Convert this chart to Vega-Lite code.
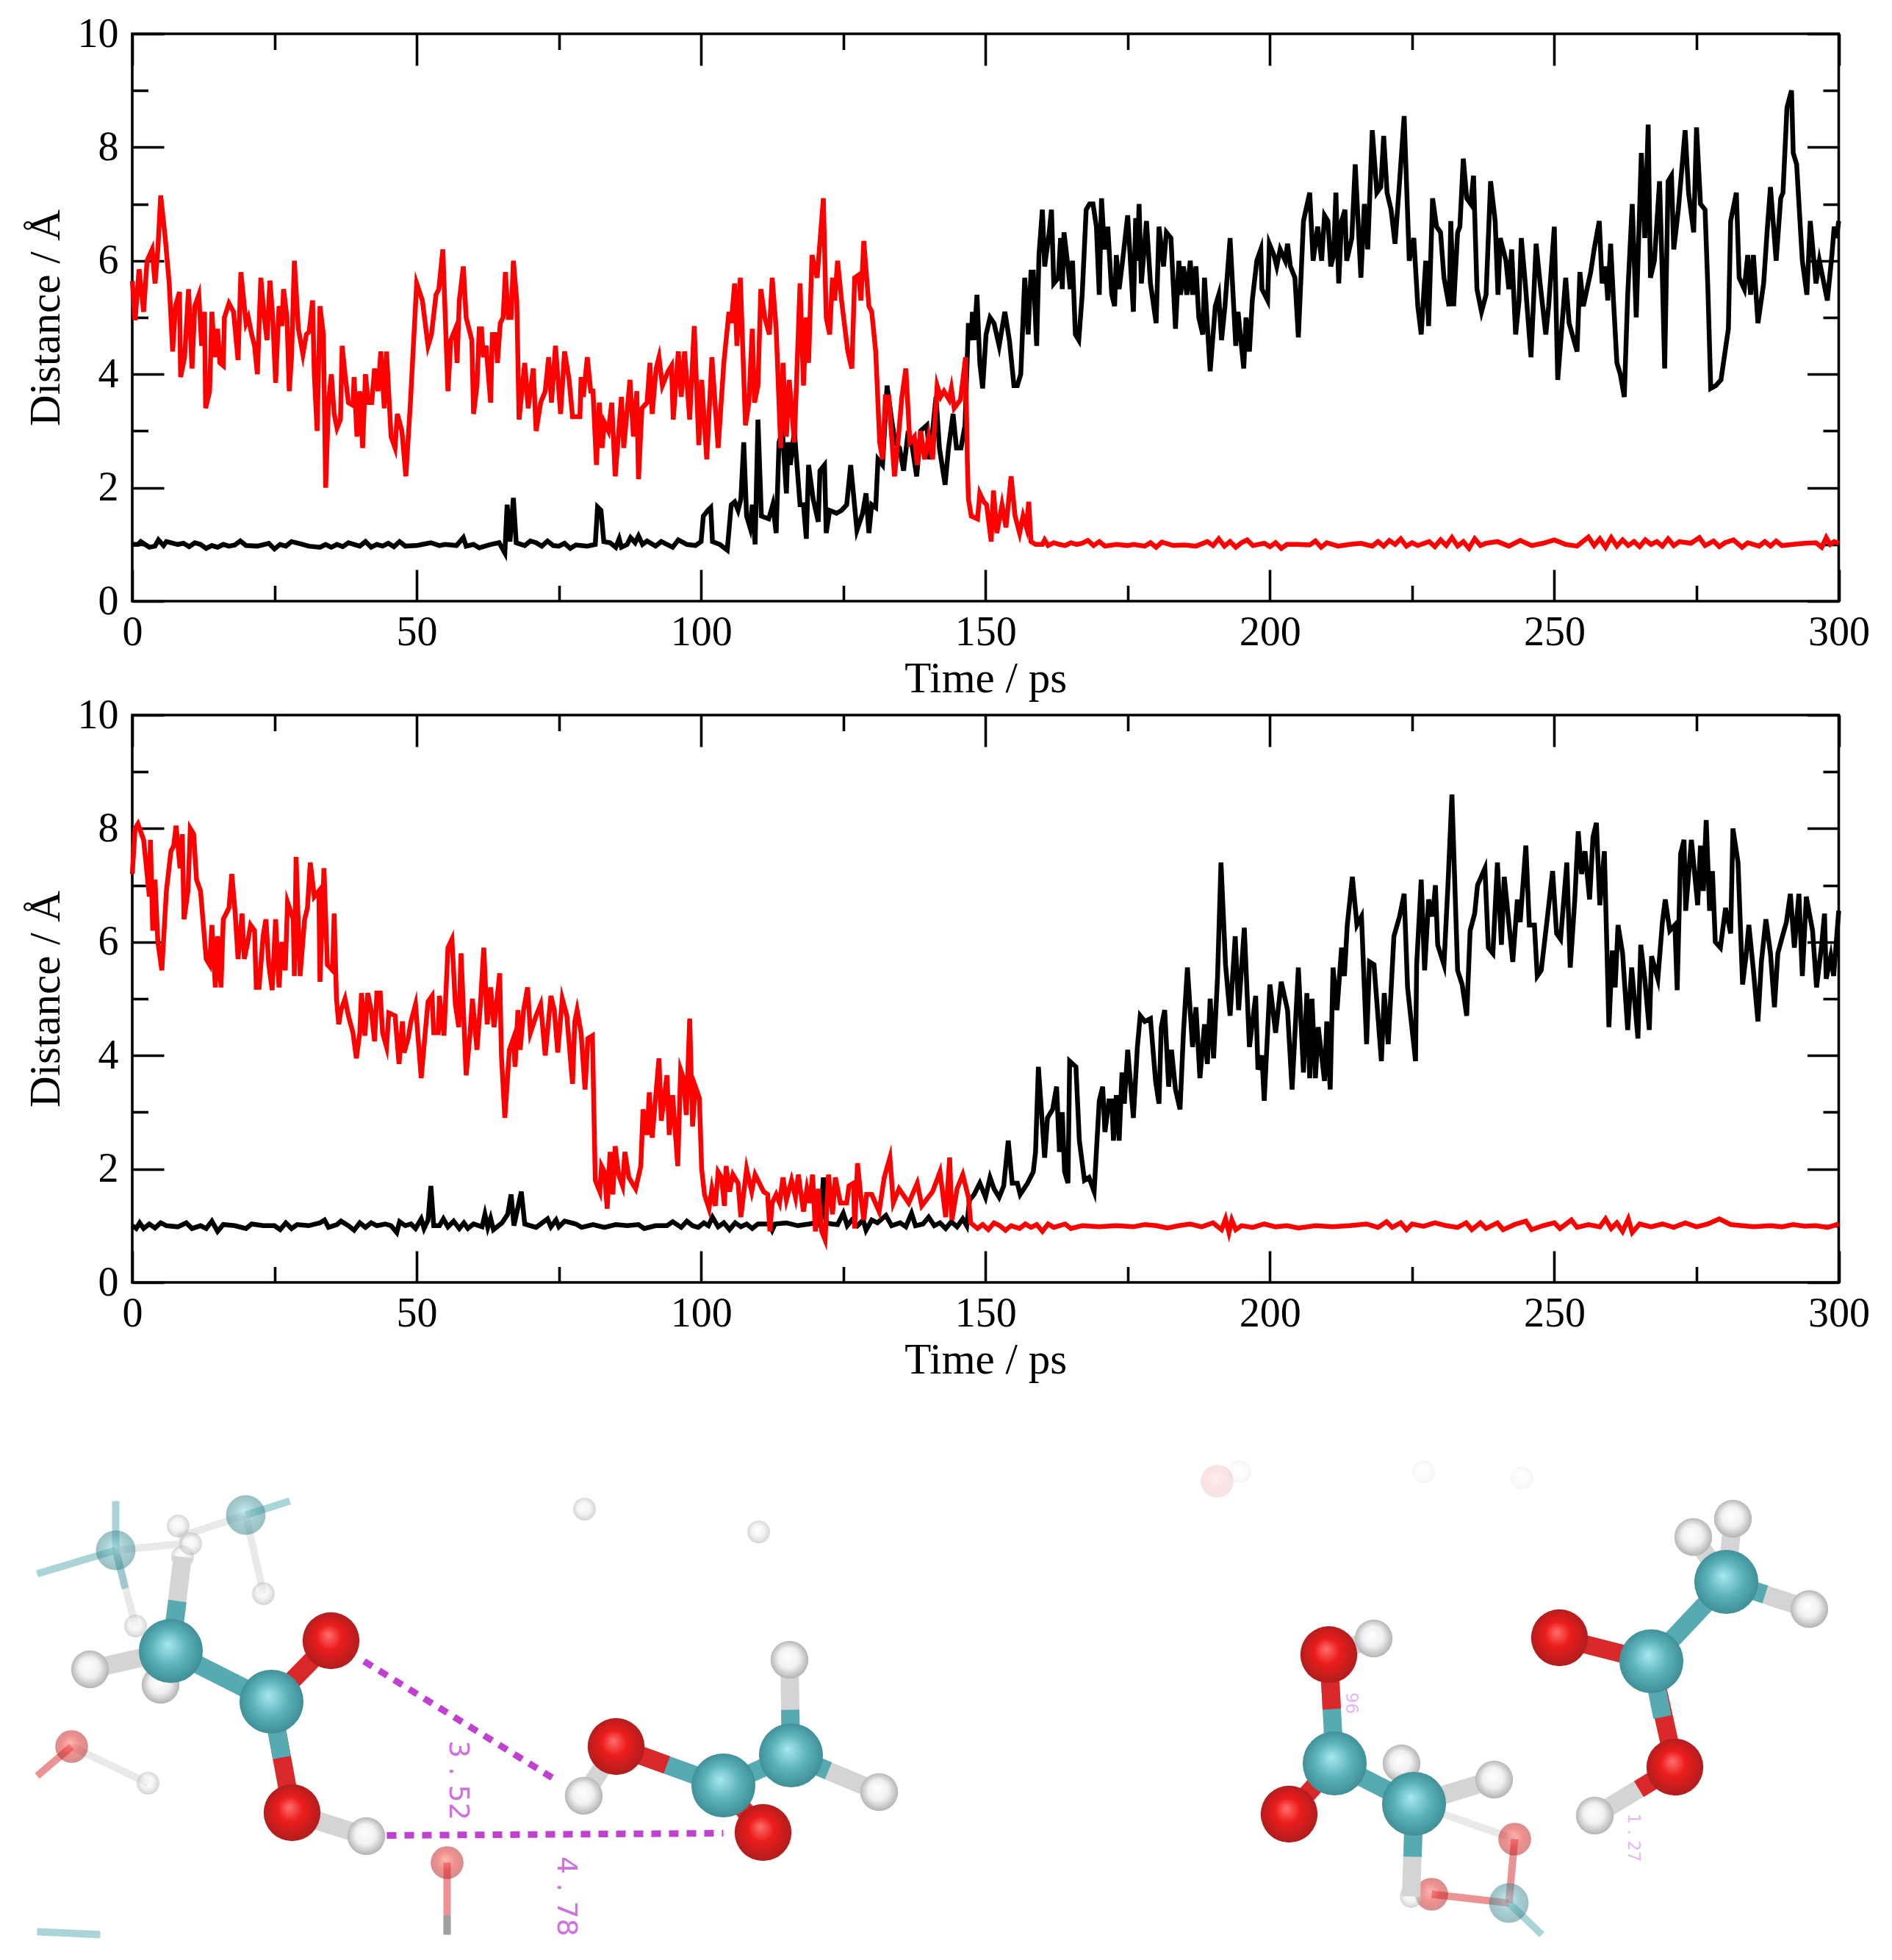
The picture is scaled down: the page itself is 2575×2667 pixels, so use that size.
{
"$schema":"https://vega.github.io/schema/vega-lite/v6.json",
"padding":{"left":31,"top":16,"right":0,"bottom":0},
"background":"white",
"spacing":155,
"bounds":"flush",
"config":{
"view":{"stroke":"black","strokeWidth":3.6},
"axis":{"grid":false,"domain":false,"labelFont":"Liberation Serif","titleFont":"Liberation Serif","labelFontSize":56,"titleFontSize":59,"titleFontWeight":"normal","labelColor":"black","titleColor":"black","tickColor":"black","tickWidth":3.6,"labelOverlap":false,"labelFlush":false,"format":"d"},
"line":{"strokeWidth":6.5,"strokeJoin":"miter","strokeMiterLimit":6}
},
"datasets":{
"black1":[{"t":0,"d":1.0},{"t":1,"d":1.0},{"t":1.5,"d":1.05},{"t":3,"d":0.95},{"t":4,"d":0.97},{"t":4.6,"d":1.08},{"t":5.5,"d":0.98},{"t":6,"d":1.05},{"t":8,"d":1.0},{"t":9,"d":1.02},{"t":10,"d":0.96},{"t":11,"d":1.03},{"t":12,"d":1.0},{"t":13,"d":0.93},{"t":14,"d":0.98},{"t":15,"d":0.95},{"t":16,"d":1.0},{"t":17,"d":0.97},{"t":18,"d":0.99},{"t":19,"d":1.06},{"t":20,"d":0.98},{"t":22,"d":0.97},{"t":24,"d":1.02},{"t":25,"d":0.92},{"t":26,"d":1.0},{"t":27,"d":0.97},{"t":28,"d":1.05},{"t":30,"d":1.0},{"t":31,"d":0.97},{"t":33,"d":0.95},{"t":34,"d":1.0},{"t":35,"d":0.95},{"t":36,"d":1.0},{"t":37,"d":0.96},{"t":38,"d":1.03},{"t":39,"d":1.0},{"t":40,"d":0.97},{"t":41,"d":1.05},{"t":42,"d":0.95},{"t":43,"d":1.0},{"t":44,"d":0.97},{"t":45,"d":1.02},{"t":46,"d":0.96},{"t":47,"d":1.05},{"t":48,"d":0.97},{"t":50,"d":0.98},{"t":51,"d":1.0},{"t":52.5,"d":1.03},{"t":54,"d":0.98},{"t":55,"d":1.0},{"t":57,"d":0.98},{"t":58.2,"d":1.12},{"t":58.7,"d":0.97},{"t":60,"d":1.0},{"t":61,"d":0.94},{"t":63,"d":1.0},{"t":64.5,"d":1.03},{"t":65.5,"d":0.85},{"t":65.9,"d":1.7},{"t":66.4,"d":1.05},{"t":67,"d":1.82},{"t":67.5,"d":1.03},{"t":69,"d":0.98},{"t":70,"d":1.06},{"t":71,"d":1.03},{"t":72,"d":0.97},{"t":73,"d":1.06},{"t":74,"d":0.98},{"t":75,"d":0.97},{"t":76,"d":1.02},{"t":77,"d":0.93},{"t":78,"d":0.99},{"t":80,"d":0.97},{"t":81.4,"d":1.0},{"t":81.8,"d":1.66},{"t":82.4,"d":1.6},{"t":82.9,"d":1.05},{"t":84,"d":1.03},{"t":85,"d":0.95},{"t":85.6,"d":1.1},{"t":86,"d":0.95},{"t":87,"d":1.0},{"t":87.6,"d":1.12},{"t":88.4,"d":1.03},{"t":89,"d":1.15},{"t":89.7,"d":1.0},{"t":90.5,"d":1.06},{"t":92,"d":0.97},{"t":93,"d":1.05},{"t":95,"d":0.95},{"t":96,"d":1.08},{"t":97.5,"d":1.0},{"t":99,"d":0.98},{"t":100,"d":1.05},{"t":100.4,"d":1.5},{"t":101.2,"d":1.6},{"t":101.7,"d":1.65},{"t":102,"d":1.05},{"t":103.3,"d":1.0},{"t":104.6,"d":0.9},{"t":105.3,"d":1.7},{"t":105.9,"d":1.75},{"t":106.5,"d":1.6},{"t":107,"d":1.8},{"t":107.5,"d":2.8},{"t":108,"d":1.5},{"t":108.6,"d":1.3},{"t":109,"d":1.7},{"t":109.5,"d":1.0},{"t":110,"d":3.2},{"t":110.6,"d":1.5},{"t":111.9,"d":1.45},{"t":112.6,"d":1.7},{"t":113.2,"d":1.2},{"t":113.7,"d":2.8},{"t":114.3,"d":3.0},{"t":115,"d":1.9},{"t":115.3,"d":2.8},{"t":115.7,"d":2.4},{"t":116.4,"d":3.0},{"t":117.4,"d":1.7},{"t":118,"d":1.7},{"t":118.5,"d":1.1},{"t":118.9,"d":2.4},{"t":119.7,"d":1.8},{"t":120.6,"d":1.4},{"t":120.9,"d":2.3},{"t":121.7,"d":2.4},{"t":122,"d":1.2},{"t":122.6,"d":1.6},{"t":123.8,"d":1.55},{"t":124.7,"d":1.6},{"t":125.6,"d":1.7},{"t":126.3,"d":2.4},{"t":127.4,"d":1.25},{"t":128.4,"d":1.55},{"t":129,"d":1.9},{"t":129.5,"d":1.2},{"t":130,"d":1.7},{"t":130.7,"d":1.65},{"t":131.1,"d":2.5},{"t":131.9,"d":2.4},{"t":132.7,"d":3.8},{"t":133.5,"d":3.2},{"t":134.1,"d":2.8},{"t":134.9,"d":2.7},{"t":135.6,"d":2.3},{"t":136.3,"d":2.9},{"t":137,"d":2.8},{"t":137.9,"d":2.2},{"t":138.6,"d":3.0},{"t":139.7,"d":3.1},{"t":140.2,"d":2.5},{"t":141.3,"d":3.6},{"t":141.9,"d":2.7},{"t":142.9,"d":2.05},{"t":143.5,"d":2.7},{"t":144.3,"d":3.3},{"t":144.9,"d":2.7},{"t":145.7,"d":2.7},{"t":146.4,"d":3.1},{"t":147,"d":4.9},{"t":147.5,"d":4.6},{"t":147.7,"d":5.1},{"t":148,"d":4.6},{"t":148.5,"d":5.4},{"t":149,"d":4.2},{"t":149.5,"d":3.75},{"t":150.1,"d":4.7},{"t":150.8,"d":5.0},{"t":151.5,"d":4.9},{"t":152.4,"d":4.5},{"t":153.4,"d":5.1},{"t":154.2,"d":4.6},{"t":155,"d":3.8},{"t":155.6,"d":3.8},{"t":156.2,"d":4.0},{"t":156.9,"d":5.7},{"t":157.5,"d":4.7},{"t":158,"d":5.8},{"t":158.4,"d":5.8},{"t":159,"d":4.5},{"t":159.4,"d":6.1},{"t":160,"d":6.9},{"t":160.4,"d":5.9},{"t":161.2,"d":6.5},{"t":161.6,"d":6.9},{"t":162,"d":5.6},{"t":162.8,"d":5.7},{"t":163.2,"d":6.4},{"t":163.5,"d":5.5},{"t":163.8,"d":6.5},{"t":164.5,"d":5.9},{"t":164.9,"d":5.5},{"t":165.3,"d":6.0},{"t":165.8,"d":4.7},{"t":166.4,"d":4.6},{"t":167,"d":5.4},{"t":167.7,"d":6.9},{"t":168.3,"d":7.0},{"t":168.9,"d":7.0},{"t":169.5,"d":6.6},{"t":170,"d":5.4},{"t":170.4,"d":7.1},{"t":170.9,"d":6.2},{"t":171.5,"d":6.6},{"t":172.2,"d":5.4},{"t":172.7,"d":5.2},{"t":173,"d":6.1},{"t":173.5,"d":5.5},{"t":174.1,"d":6.0},{"t":175,"d":6.8},{"t":176,"d":5.1},{"t":176.4,"d":6.75},{"t":176.7,"d":6.0},{"t":177,"d":7.0},{"t":177.4,"d":5.6},{"t":178.3,"d":6.7},{"t":179,"d":5.6},{"t":180,"d":4.9},{"t":180.5,"d":6.6},{"t":181.3,"d":5.9},{"t":181.8,"d":6.5},{"t":182.6,"d":6.4},{"t":183.4,"d":4.8},{"t":184,"d":6.0},{"t":184.3,"d":5.4},{"t":184.8,"d":5.9},{"t":185.4,"d":5.4},{"t":186,"d":6.0},{"t":186.4,"d":5.4},{"t":187,"d":5.9},{"t":187.5,"d":5.0},{"t":188.2,"d":4.7},{"t":188.5,"d":5.7},{"t":189.5,"d":4.05},{"t":190.4,"d":5.2},{"t":191,"d":5.4},{"t":191.5,"d":4.6},{"t":192.1,"d":5.2},{"t":193,"d":6.4},{"t":194,"d":4.5},{"t":194.4,"d":5.1},{"t":195.4,"d":4.1},{"t":195.8,"d":5.0},{"t":196.4,"d":4.4},{"t":196.9,"d":5.3},{"t":197.7,"d":6.0},{"t":198.4,"d":6.2},{"t":198.6,"d":5.5},{"t":199.6,"d":5.3},{"t":199.9,"d":6.3},{"t":200.7,"d":6.1},{"t":201.2,"d":5.9},{"t":201.8,"d":6.2},{"t":202.7,"d":6.0},{"t":203.1,"d":6.3},{"t":203.6,"d":5.9},{"t":204.4,"d":5.7},{"t":205,"d":4.65},{"t":205.9,"d":6.7},{"t":207,"d":7.2},{"t":207.6,"d":6.0},{"t":208.4,"d":6.6},{"t":209.1,"d":6.0},{"t":209.6,"d":6.8},{"t":210.2,"d":6.7},{"t":210.7,"d":5.9},{"t":211.2,"d":6.1},{"t":211.6,"d":7.2},{"t":212.1,"d":5.6},{"t":212.6,"d":6.7},{"t":213.2,"d":6.9},{"t":213.5,"d":6.0},{"t":214.4,"d":6.4},{"t":215,"d":7.7},{"t":216,"d":5.7},{"t":216.6,"d":7.0},{"t":217.2,"d":6.2},{"t":218,"d":8.3},{"t":218.8,"d":7.2},{"t":219.5,"d":7.3},{"t":220,"d":8.2},{"t":220.6,"d":7.2},{"t":221.3,"d":6.9},{"t":222,"d":6.3},{"t":222.8,"d":7.4},{"t":223.6,"d":8.55},{"t":224.5,"d":6.0},{"t":225.3,"d":6.4},{"t":226,"d":5.2},{"t":226.6,"d":4.7},{"t":227.4,"d":6.0},{"t":227.9,"d":4.85},{"t":228.6,"d":7.1},{"t":229.3,"d":6.6},{"t":230,"d":6.5},{"t":230.6,"d":5.7},{"t":231.5,"d":5.2},{"t":231.8,"d":6.7},{"t":232.3,"d":5.2},{"t":233,"d":6.5},{"t":233.4,"d":6.6},{"t":234,"d":7.8},{"t":234.6,"d":7.1},{"t":235.3,"d":7.0},{"t":235.8,"d":7.5},{"t":236.4,"d":5.5},{"t":237.2,"d":5.1},{"t":238,"d":5.4},{"t":238.8,"d":7.4},{"t":239.6,"d":6.7},{"t":240.1,"d":5.4},{"t":240.5,"d":6.4},{"t":241.5,"d":6.0},{"t":242,"d":5.5},{"t":242.5,"d":6.2},{"t":243.2,"d":4.7},{"t":243.8,"d":5.3},{"t":244.2,"d":6.4},{"t":244.9,"d":5.6},{"t":245.9,"d":4.3},{"t":246.8,"d":6.3},{"t":247.5,"d":5.6},{"t":248.5,"d":4.7},{"t":249,"d":5.2},{"t":250,"d":6.6},{"t":250.6,"d":3.9},{"t":252,"d":5.7},{"t":252.6,"d":4.9},{"t":254,"d":4.4},{"t":254.5,"d":5.8},{"t":255.1,"d":5.2},{"t":256.4,"d":5.8},{"t":257,"d":6.2},{"t":257.9,"d":6.7},{"t":258.4,"d":5.6},{"t":259,"d":5.9},{"t":259.4,"d":5.3},{"t":259.9,"d":6.3},{"t":260.4,"d":5.3},{"t":261,"d":4.2},{"t":261.6,"d":4.0},{"t":262.3,"d":3.6},{"t":262.9,"d":5.4},{"t":263.7,"d":7.0},{"t":264.4,"d":5.0},{"t":265.3,"d":7.9},{"t":265.9,"d":6.4},{"t":266.5,"d":8.4},{"t":266.9,"d":5.7},{"t":267.6,"d":6.0},{"t":268.5,"d":7.4},{"t":269,"d":5.7},{"t":269.4,"d":4.1},{"t":270,"d":7.4},{"t":270.6,"d":7.5},{"t":271,"d":6.2},{"t":271.8,"d":6.9},{"t":273,"d":8.3},{"t":273.6,"d":7.2},{"t":274.5,"d":6.5},{"t":275,"d":8.35},{"t":275.7,"d":7.0},{"t":276.5,"d":6.9},{"t":277,"d":5.5},{"t":277.5,"d":3.75},{"t":278.4,"d":3.8},{"t":279.3,"d":3.9},{"t":280.6,"d":4.8},{"t":281,"d":6.7},{"t":282,"d":7.2},{"t":282.5,"d":5.7},{"t":283.4,"d":5.5},{"t":284,"d":6.1},{"t":284.5,"d":5.4},{"t":285,"d":6.1},{"t":285.8,"d":4.9},{"t":286.8,"d":5.6},{"t":287.4,"d":6.5},{"t":288,"d":7.3},{"t":289,"d":6.0},{"t":289.8,"d":7.1},{"t":290.2,"d":7.2},{"t":290.9,"d":8.7},{"t":291.7,"d":9.0},{"t":292,"d":7.9},{"t":292.6,"d":7.7},{"t":293.6,"d":6.0},{"t":294.4,"d":5.4},{"t":295,"d":6.7},{"t":296,"d":5.6},{"t":296.6,"d":6.0},{"t":298,"d":5.3},{"t":298.8,"d":6.1},{"t":299.2,"d":6.6},{"t":299.6,"d":6.4},{"t":300,"d":6.7}],
"red1":[{"t":0,"d":5.64},{"t":0.5,"d":4.95},{"t":1.2,"d":5.85},{"t":2,"d":5.1},{"t":2.6,"d":6.0},{"t":3.5,"d":6.2},{"t":4,"d":5.6},{"t":4.5,"d":6.2},{"t":5,"d":7.15},{"t":5.8,"d":6.4},{"t":6.5,"d":5.6},{"t":7.1,"d":4.4},{"t":7.6,"d":5.2},{"t":8.3,"d":5.45},{"t":8.5,"d":3.95},{"t":9.2,"d":4.3},{"t":9.9,"d":5.5},{"t":10.5,"d":4.1},{"t":11,"d":5.2},{"t":11.7,"d":5.4},{"t":12.2,"d":4.5},{"t":12.7,"d":5.1},{"t":12.9,"d":3.4},{"t":13.6,"d":3.7},{"t":14,"d":5.1},{"t":14.5,"d":4.3},{"t":15,"d":4.8},{"t":15.4,"d":4.2},{"t":16,"d":4.15},{"t":16.2,"d":5.0},{"t":17,"d":5.25},{"t":17.8,"d":5.1},{"t":18.6,"d":4.25},{"t":19.1,"d":5.8},{"t":20,"d":4.9},{"t":20.4,"d":5.0},{"t":21,"d":4.7},{"t":21.5,"d":4.5},{"t":22,"d":4.0},{"t":22.6,"d":5.7},{"t":23.2,"d":5.0},{"t":23.7,"d":4.6},{"t":24.2,"d":5.65},{"t":24.7,"d":5.0},{"t":25.2,"d":3.85},{"t":25.8,"d":5.2},{"t":26.3,"d":4.85},{"t":26.6,"d":5.5},{"t":27.2,"d":5.0},{"t":27.6,"d":3.7},{"t":28,"d":4.3},{"t":28.5,"d":6.0},{"t":29.2,"d":4.8},{"t":30,"d":4.35},{"t":30.6,"d":4.7},{"t":31.1,"d":4.75},{"t":31.7,"d":5.3},{"t":32,"d":4.0},{"t":32.5,"d":3.0},{"t":33,"d":5.2},{"t":33.6,"d":4.7},{"t":34,"d":2.0},{"t":34.5,"d":3.5},{"t":35,"d":4.0},{"t":35.5,"d":3.3},{"t":36,"d":3.05},{"t":36.6,"d":3.2},{"t":36.9,"d":4.5},{"t":37.4,"d":4.0},{"t":38,"d":3.5},{"t":38.8,"d":3.45},{"t":39,"d":3.95},{"t":39.5,"d":2.9},{"t":40,"d":3.7},{"t":40.5,"d":2.7},{"t":41,"d":4.0},{"t":41.5,"d":3.5},{"t":42.1,"d":3.5},{"t":42.6,"d":4.1},{"t":43.2,"d":3.7},{"t":43.7,"d":4.4},{"t":44.3,"d":3.4},{"t":44.7,"d":4.4},{"t":45.5,"d":2.9},{"t":46.2,"d":2.7},{"t":46.6,"d":3.3},{"t":47.4,"d":3.0},{"t":48.1,"d":2.2},{"t":48.9,"d":3.5},{"t":50,"d":5.6},{"t":51,"d":5.3},{"t":52,"d":4.5},{"t":52.6,"d":4.7},{"t":53.4,"d":5.4},{"t":53.9,"d":5.5},{"t":54.6,"d":6.2},{"t":55.5,"d":3.7},{"t":56,"d":4.6},{"t":56.8,"d":4.8},{"t":57.1,"d":4.2},{"t":57.5,"d":5.3},{"t":58.2,"d":5.9},{"t":58.7,"d":5.0},{"t":59.7,"d":4.6},{"t":60,"d":3.3},{"t":60.6,"d":3.8},{"t":61,"d":4.8},{"t":61.4,"d":4.8},{"t":61.7,"d":4.3},{"t":62.2,"d":4.5},{"t":63,"d":3.5},{"t":63.3,"d":4.7},{"t":63.9,"d":4.7},{"t":64.2,"d":4.2},{"t":64.7,"d":4.9},{"t":65.2,"d":5.0},{"t":65.6,"d":5.8},{"t":66.1,"d":5.0},{"t":66.6,"d":5.0},{"t":67,"d":6.0},{"t":67.6,"d":5.3},{"t":68,"d":3.2},{"t":68.6,"d":3.8},{"t":69,"d":4.2},{"t":69.6,"d":3.4},{"t":70.5,"d":4.1},{"t":71,"d":3.0},{"t":71.8,"d":3.5},{"t":72.6,"d":3.7},{"t":73.2,"d":4.3},{"t":73.7,"d":3.5},{"t":74.4,"d":4.5},{"t":75.3,"d":3.3},{"t":76,"d":4.4},{"t":76.8,"d":3.9},{"t":77.4,"d":3.25},{"t":78.7,"d":3.25},{"t":78.9,"d":3.95},{"t":79.3,"d":3.6},{"t":80,"d":4.3},{"t":80.6,"d":3.7},{"t":81,"d":3.7},{"t":81.6,"d":2.4},{"t":82.1,"d":3.5},{"t":82.6,"d":2.7},{"t":83,"d":3.15},{"t":83.7,"d":3.0},{"t":84.3,"d":3.5},{"t":84.9,"d":2.2},{"t":86,"d":3.6},{"t":86.4,"d":2.7},{"t":87.5,"d":3.9},{"t":88.1,"d":2.9},{"t":88.7,"d":3.7},{"t":89,"d":2.15},{"t":89.6,"d":3.4},{"t":90.5,"d":3.5},{"t":91,"d":4.2},{"t":91.4,"d":3.3},{"t":92.1,"d":4.1},{"t":92.6,"d":4.3},{"t":93.2,"d":3.8},{"t":94.2,"d":4.05},{"t":94.8,"d":4.15},{"t":95.1,"d":3.2},{"t":96,"d":4.4},{"t":96.5,"d":3.6},{"t":97.1,"d":4.4},{"t":98,"d":3.2},{"t":98.8,"d":4.85},{"t":99.6,"d":2.75},{"t":100.1,"d":3.9},{"t":101,"d":2.5},{"t":101.9,"d":4.3},{"t":103,"d":2.7},{"t":104,"d":4.2},{"t":104.9,"d":5.1},{"t":105.3,"d":4.9},{"t":105.9,"d":5.6},{"t":106.3,"d":4.5},{"t":106.9,"d":5.7},{"t":107.8,"d":3.1},{"t":108.4,"d":3.5},{"t":109,"d":4.8},{"t":109.4,"d":3.5},{"t":110,"d":3.8},{"t":110.5,"d":5.5},{"t":111.2,"d":5.0},{"t":112,"d":4.7},{"t":112.5,"d":5.7},{"t":113.2,"d":4.8},{"t":114,"d":2.7},{"t":114.4,"d":4.2},{"t":115,"d":2.9},{"t":115.5,"d":3.9},{"t":116.4,"d":2.8},{"t":117.4,"d":5.6},{"t":118,"d":3.8},{"t":118.5,"d":5.0},{"t":118.9,"d":4.2},{"t":119.5,"d":6.1},{"t":120.4,"d":5.7},{"t":121.5,"d":7.1},{"t":122,"d":5.0},{"t":122.6,"d":4.7},{"t":123.1,"d":5.7},{"t":123.5,"d":5.3},{"t":124,"d":6.0},{"t":124.7,"d":5.3},{"t":125.3,"d":4.8},{"t":125.8,"d":4.4},{"t":126.5,"d":4.1},{"t":127,"d":5.7},{"t":127.7,"d":5.75},{"t":128.1,"d":5.3},{"t":128.6,"d":6.35},{"t":129.5,"d":5.2},{"t":130,"d":5.1},{"t":130.7,"d":4.4},{"t":131.4,"d":2.8},{"t":131.9,"d":2.5},{"t":132.4,"d":3.6},{"t":133,"d":3.6},{"t":134,"d":2.2},{"t":134.7,"d":2.9},{"t":135.3,"d":3.6},{"t":136,"d":4.1},{"t":136.7,"d":2.8},{"t":137.5,"d":2.9},{"t":138,"d":2.4},{"t":138.6,"d":3.0},{"t":139.3,"d":2.5},{"t":140,"d":2.9},{"t":140.7,"d":2.5},{"t":141.5,"d":3.8},{"t":142.1,"d":3.6},{"t":142.7,"d":3.7},{"t":143.6,"d":3.55},{"t":144,"d":3.75},{"t":144.5,"d":3.4},{"t":145.6,"d":3.55},{"t":146.5,"d":4.3},{"t":146.8,"d":2.5},{"t":147,"d":1.8},{"t":147.5,"d":1.5},{"t":148.6,"d":1.45},{"t":149,"d":1.9},{"t":149.7,"d":1.75},{"t":150.2,"d":1.7},{"t":151,"d":1.05},{"t":151.4,"d":1.95},{"t":152,"d":1.2},{"t":152.9,"d":1.7},{"t":153.6,"d":1.3},{"t":154.5,"d":2.2},{"t":155.2,"d":1.5},{"t":156,"d":1.2},{"t":156.6,"d":1.5},{"t":157.2,"d":1.3},{"t":157.6,"d":1.75},{"t":158,"d":1.05},{"t":158.8,"d":1.0},{"t":160,"d":1.0},{"t":160.4,"d":1.08},{"t":161,"d":0.98},{"t":162,"d":1.03},{"t":163,"d":1.0},{"t":164,"d":0.98},{"t":165,"d":1.03},{"t":166,"d":1.0},{"t":167,"d":1.02},{"t":168,"d":1.07},{"t":169,"d":0.98},{"t":170,"d":1.05},{"t":171,"d":0.97},{"t":173,"d":1.0},{"t":175,"d":0.98},{"t":176,"d":1.0},{"t":178,"d":0.97},{"t":179,"d":1.03},{"t":180,"d":0.95},{"t":181,"d":1.04},{"t":183,"d":0.98},{"t":185,"d":0.99},{"t":187,"d":0.97},{"t":189,"d":1.05},{"t":190,"d":0.98},{"t":191,"d":1.1},{"t":192,"d":0.97},{"t":193,"d":1.05},{"t":194,"d":0.95},{"t":195,"d":1.03},{"t":196,"d":1.08},{"t":197,"d":0.98},{"t":199,"d":1.02},{"t":200,"d":0.96},{"t":201,"d":1.03},{"t":202,"d":0.93},{"t":203,"d":1.0},{"t":205,"d":1.0},{"t":207,"d":0.99},{"t":208,"d":1.06},{"t":209,"d":0.95},{"t":210,"d":1.03},{"t":212,"d":0.97},{"t":214,"d":1.0},{"t":216,"d":1.02},{"t":218,"d":0.97},{"t":219,"d":1.05},{"t":220,"d":0.97},{"t":221,"d":1.07},{"t":222,"d":1.0},{"t":223,"d":1.1},{"t":224,"d":0.97},{"t":225,"d":1.03},{"t":226,"d":0.98},{"t":228,"d":1.05},{"t":229,"d":0.96},{"t":230,"d":1.08},{"t":231,"d":0.98},{"t":232,"d":1.12},{"t":233,"d":0.97},{"t":234,"d":1.05},{"t":235,"d":0.93},{"t":236,"d":1.1},{"t":237,"d":0.98},{"t":238,"d":1.02},{"t":240,"d":1.05},{"t":242,"d":0.97},{"t":244,"d":1.07},{"t":246,"d":0.98},{"t":248,"d":1.02},{"t":250,"d":1.08},{"t":252,"d":1.0},{"t":254,"d":0.97},{"t":256,"d":1.13},{"t":257,"d":0.98},{"t":258,"d":1.1},{"t":259,"d":0.95},{"t":260,"d":1.12},{"t":261,"d":0.97},{"t":262,"d":1.08},{"t":263,"d":0.98},{"t":264,"d":1.05},{"t":265,"d":0.96},{"t":266,"d":1.08},{"t":267,"d":1.0},{"t":268,"d":1.05},{"t":269,"d":0.97},{"t":270,"d":1.1},{"t":271,"d":0.98},{"t":272,"d":1.05},{"t":274,"d":1.02},{"t":275.5,"d":1.12},{"t":276.5,"d":0.98},{"t":278,"d":1.06},{"t":279,"d":0.96},{"t":280,"d":1.03},{"t":281.5,"d":1.08},{"t":283,"d":0.95},{"t":284,"d":1.03},{"t":286,"d":0.97},{"t":287,"d":1.05},{"t":288,"d":0.97},{"t":289,"d":1.06},{"t":290,"d":0.98},{"t":292,"d":1.0},{"t":294,"d":1.02},{"t":296,"d":1.03},{"t":297,"d":0.95},{"t":297.8,"d":1.12},{"t":298.5,"d":1.0},{"t":299.2,"d":1.05},{"t":300,"d":1.02}],
"black2":[{"t":0,"d":1.0},{"t":0.7,"d":0.95},{"t":1.3,"d":1.05},{"t":2,"d":0.95},{"t":3,"d":1.03},{"t":4,"d":0.96},{"t":5,"d":1.05},{"t":6,"d":1.0},{"t":8,"d":0.98},{"t":9.5,"d":1.05},{"t":10.5,"d":0.95},{"t":12,"d":1.0},{"t":13,"d":0.95},{"t":14,"d":1.08},{"t":15,"d":0.9},{"t":16,"d":1.02},{"t":18,"d":1.0},{"t":20,"d":0.95},{"t":21,"d":1.03},{"t":23,"d":1.0},{"t":25,"d":1.0},{"t":26,"d":0.93},{"t":27,"d":1.05},{"t":28,"d":0.95},{"t":29,"d":1.02},{"t":31,"d":1.0},{"t":33,"d":1.05},{"t":33.8,"d":1.1},{"t":34.5,"d":0.97},{"t":36,"d":1.02},{"t":36.7,"d":1.08},{"t":38,"d":1.0},{"t":39,"d":0.92},{"t":40,"d":1.05},{"t":41,"d":0.97},{"t":42,"d":1.05},{"t":43,"d":1.0},{"t":44.5,"d":1.03},{"t":45.5,"d":1.0},{"t":46.5,"d":0.88},{"t":47,"d":1.07},{"t":48,"d":1.0},{"t":49,"d":1.03},{"t":49.8,"d":0.95},{"t":50.8,"d":1.12},{"t":51.3,"d":0.95},{"t":52,"d":1.1},{"t":52.5,"d":1.7},{"t":53,"d":1.0},{"t":54,"d":1.0},{"t":54.7,"d":1.12},{"t":55.5,"d":0.98},{"t":56.5,"d":1.08},{"t":57.5,"d":0.95},{"t":58.3,"d":1.05},{"t":59,"d":0.95},{"t":60,"d":1.03},{"t":61.5,"d":0.98},{"t":62,"d":1.2},{"t":62.5,"d":0.97},{"t":63,"d":1.13},{"t":63.5,"d":0.93},{"t":65,"d":1.05},{"t":66,"d":1.2},{"t":66.6,"d":1.55},{"t":67.1,"d":1.0},{"t":68.4,"d":1.6},{"t":69,"d":1.03},{"t":70,"d":1.0},{"t":71,"d":0.97},{"t":73,"d":1.12},{"t":73.6,"d":0.98},{"t":74.5,"d":1.1},{"t":75,"d":0.98},{"t":76,"d":1.08},{"t":78,"d":1.03},{"t":79,"d":0.97},{"t":81,"d":1.02},{"t":83,"d":0.97},{"t":85,"d":1.02},{"t":87,"d":1.0},{"t":89,"d":1.02},{"t":90,"d":0.95},{"t":92,"d":1.0},{"t":94,"d":1.0},{"t":95,"d":1.07},{"t":96.5,"d":0.97},{"t":97.5,"d":1.08},{"t":98.5,"d":1.0},{"t":99.5,"d":0.97},{"t":100.5,"d":1.05},{"t":101.3,"d":1.0},{"t":102,"d":1.15},{"t":103,"d":0.98},{"t":104,"d":1.05},{"t":105,"d":0.93},{"t":106,"d":1.05},{"t":107,"d":0.98},{"t":108,"d":1.03},{"t":109,"d":0.95},{"t":110,"d":1.03},{"t":112,"d":1.03},{"t":112.5,"d":0.92},{"t":113,"d":1.03},{"t":115,"d":1.05},{"t":117,"d":1.0},{"t":119,"d":1.03},{"t":120,"d":1.05},{"t":121,"d":1.0},{"t":121.5,"d":1.85},{"t":122,"d":1.05},{"t":123,"d":1.03},{"t":124,"d":1.02},{"t":125,"d":1.22},{"t":125.7,"d":1.0},{"t":126.5,"d":1.1},{"t":127.5,"d":1.0},{"t":128.5,"d":1.1},{"t":129,"d":0.92},{"t":130,"d":1.1},{"t":131,"d":1.05},{"t":132.5,"d":1.18},{"t":133.5,"d":1.0},{"t":135,"d":1.05},{"t":136,"d":0.98},{"t":137,"d":1.22},{"t":137.7,"d":1.0},{"t":139,"d":1.03},{"t":140,"d":1.15},{"t":141,"d":1.0},{"t":142,"d":1.05},{"t":143,"d":0.95},{"t":144,"d":1.07},{"t":145,"d":0.98},{"t":146,"d":1.12},{"t":146.7,"d":1.0},{"t":147.2,"d":1.45},{"t":148,"d":1.55},{"t":149,"d":1.75},{"t":150,"d":1.5},{"t":150.8,"d":1.85},{"t":151.5,"d":1.65},{"t":152.4,"d":1.5},{"t":153.2,"d":1.7},{"t":154,"d":2.5},{"t":154.7,"d":1.75},{"t":155.6,"d":1.75},{"t":156.1,"d":1.55},{"t":157.4,"d":1.75},{"t":158.4,"d":1.95},{"t":158.8,"d":2.3},{"t":159.3,"d":3.8},{"t":160.4,"d":2.2},{"t":160.9,"d":2.9},{"t":161.8,"d":3.05},{"t":162.5,"d":3.45},{"t":163,"d":2.3},{"t":163.5,"d":3.0},{"t":163.9,"d":1.95},{"t":164.5,"d":1.75},{"t":164.8,"d":3.9},{"t":165.9,"d":3.8},{"t":166.5,"d":2.5},{"t":167.4,"d":1.8},{"t":168.2,"d":1.85},{"t":169.1,"d":1.6},{"t":170,"d":3.2},{"t":170.6,"d":3.45},{"t":171,"d":2.65},{"t":171.7,"d":3.2},{"t":172.2,"d":3.2},{"t":172.5,"d":2.5},{"t":173,"d":3.3},{"t":173.5,"d":2.5},{"t":174,"d":3.7},{"t":174.4,"d":3.15},{"t":175,"d":4.1},{"t":176,"d":2.9},{"t":176.7,"d":4.15},{"t":177.2,"d":4.7},{"t":178,"d":4.6},{"t":179,"d":4.65},{"t":179.9,"d":3.55},{"t":180.5,"d":3.15},{"t":180.9,"d":4.5},{"t":181.5,"d":4.8},{"t":182.2,"d":3.45},{"t":182.7,"d":4.1},{"t":183.4,"d":3.4},{"t":184.2,"d":3.05},{"t":184.8,"d":4.4},{"t":185.5,"d":5.55},{"t":186.4,"d":4.15},{"t":187,"d":4.85},{"t":187.7,"d":3.6},{"t":188.5,"d":4.55},{"t":189,"d":3.85},{"t":189.5,"d":5.0},{"t":190.1,"d":3.95},{"t":190.8,"d":5.4},{"t":191.4,"d":7.4},{"t":192.2,"d":5.6},{"t":193,"d":4.7},{"t":193.9,"d":6.1},{"t":194.5,"d":4.8},{"t":195.5,"d":6.25},{"t":196.4,"d":4.15},{"t":197.5,"d":5.05},{"t":197.9,"d":3.75},{"t":198.6,"d":4.0},{"t":199,"d":3.2},{"t":200,"d":5.25},{"t":201,"d":4.4},{"t":202,"d":5.3},{"t":203.1,"d":4.8},{"t":203.9,"d":3.4},{"t":205,"d":5.55},{"t":205.9,"d":3.7},{"t":206.5,"d":5.1},{"t":207,"d":3.6},{"t":207.4,"d":5.0},{"t":208,"d":3.6},{"t":208.5,"d":4.5},{"t":209.6,"d":3.55},{"t":210,"d":4.6},{"t":210.6,"d":3.4},{"t":211.1,"d":5.55},{"t":211.8,"d":4.8},{"t":212.6,"d":5.9},{"t":213.1,"d":5.4},{"t":213.6,"d":6.3},{"t":214.5,"d":7.15},{"t":215.3,"d":6.3},{"t":216.1,"d":6.45},{"t":217,"d":4.2},{"t":217.5,"d":5.65},{"t":218.3,"d":5.6},{"t":219.6,"d":3.9},{"t":220.1,"d":5.1},{"t":220.8,"d":4.2},{"t":221.8,"d":6.1},{"t":222.8,"d":6.45},{"t":223.6,"d":6.85},{"t":224.2,"d":5.2},{"t":225.6,"d":3.9},{"t":225.8,"d":5.6},{"t":226.6,"d":7.1},{"t":227.2,"d":5.5},{"t":227.9,"d":6.75},{"t":228.6,"d":6.45},{"t":229.1,"d":7.0},{"t":229.5,"d":5.95},{"t":230.6,"d":5.6},{"t":231.3,"d":7.0},{"t":232,"d":8.6},{"t":233,"d":5.5},{"t":233.8,"d":5.25},{"t":234.6,"d":4.7},{"t":235.2,"d":6.2},{"t":236,"d":6.5},{"t":236.5,"d":7.0},{"t":237.8,"d":7.3},{"t":238.4,"d":5.9},{"t":239.2,"d":5.8},{"t":240,"d":7.4},{"t":240.7,"d":5.95},{"t":241.2,"d":7.15},{"t":242.7,"d":5.65},{"t":243.5,"d":6.75},{"t":244,"d":6.35},{"t":245,"d":7.7},{"t":245.6,"d":6.3},{"t":246.5,"d":6.3},{"t":247,"d":5.4},{"t":247.7,"d":5.5},{"t":248.8,"d":6.45},{"t":249.7,"d":7.25},{"t":250.4,"d":6.15},{"t":251.1,"d":6.05},{"t":252.2,"d":7.4},{"t":252.8,"d":5.55},{"t":253.6,"d":6.75},{"t":254.2,"d":7.95},{"t":254.8,"d":7.2},{"t":255.4,"d":7.6},{"t":256.2,"d":6.75},{"t":256.8,"d":7.85},{"t":257.4,"d":8.1},{"t":258,"d":6.65},{"t":258.8,"d":7.6},{"t":259.6,"d":4.5},{"t":260.2,"d":5.85},{"t":260.7,"d":5.2},{"t":261.2,"d":6.3},{"t":262,"d":5.8},{"t":262.9,"d":4.45},{"t":263.6,"d":5.55},{"t":264.7,"d":4.3},{"t":265.2,"d":5.95},{"t":265.9,"d":5.35},{"t":266.7,"d":4.45},{"t":267.1,"d":5.75},{"t":268.2,"d":5.35},{"t":269,"d":6.35},{"t":269.5,"d":6.75},{"t":270.3,"d":6.2},{"t":271.2,"d":6.3},{"t":271.6,"d":5.15},{"t":272.2,"d":7.55},{"t":272.8,"d":7.8},{"t":273.1,"d":6.55},{"t":274.1,"d":7.8},{"t":275.2,"d":6.65},{"t":275.7,"d":7.7},{"t":276.2,"d":6.9},{"t":276.7,"d":8.15},{"t":277.3,"d":6.55},{"t":277.8,"d":7.25},{"t":278.3,"d":6.0},{"t":279.2,"d":5.9},{"t":280.1,"d":6.6},{"t":281,"d":6.15},{"t":281.4,"d":8.0},{"t":282.3,"d":7.4},{"t":283.1,"d":5.25},{"t":283.7,"d":5.75},{"t":284.2,"d":6.3},{"t":285,"d":5.5},{"t":285.8,"d":4.6},{"t":286.4,"d":5.65},{"t":287.2,"d":6.4},{"t":288,"d":5.8},{"t":288.7,"d":4.85},{"t":289.3,"d":5.8},{"t":290.1,"d":6.1},{"t":290.8,"d":6.35},{"t":291.5,"d":6.85},{"t":292.2,"d":5.9},{"t":293,"d":6.85},{"t":293.6,"d":5.4},{"t":294.3,"d":6.8},{"t":295.4,"d":6.2},{"t":296.1,"d":5.2},{"t":297,"d":5.95},{"t":297.5,"d":6.5},{"t":297.8,"d":5.35},{"t":298.6,"d":5.75},{"t":299.1,"d":5.4},{"t":300,"d":6.55}],
"red2":[{"t":0,"d":7.2},{"t":0.5,"d":8.0},{"t":1,"d":8.08},{"t":2,"d":7.8},{"t":3,"d":6.8},{"t":3.2,"d":7.8},{"t":3.6,"d":6.2},{"t":4,"d":7.1},{"t":4.5,"d":6.0},{"t":5.2,"d":5.5},{"t":6,"d":6.9},{"t":6.8,"d":7.6},{"t":7.3,"d":7.7},{"t":7.7,"d":8.05},{"t":8.4,"d":7.3},{"t":8.8,"d":7.9},{"t":9.1,"d":6.4},{"t":9.8,"d":6.9},{"t":10.2,"d":8.0},{"t":10.8,"d":7.9},{"t":11.3,"d":7.1},{"t":12,"d":6.9},{"t":12.5,"d":6.3},{"t":13,"d":5.7},{"t":13.6,"d":5.6},{"t":14,"d":6.3},{"t":14.6,"d":5.2},{"t":15,"d":6.1},{"t":15.6,"d":5.2},{"t":16,"d":6.4},{"t":17,"d":6.6},{"t":17.5,"d":7.2},{"t":18.1,"d":6.5},{"t":18.6,"d":5.7},{"t":19.3,"d":6.5},{"t":19.7,"d":5.7},{"t":20.3,"d":6.0},{"t":20.8,"d":6.3},{"t":21.5,"d":6.2},{"t":21.8,"d":5.2},{"t":22.3,"d":5.2},{"t":23,"d":6.1},{"t":23.5,"d":6.4},{"t":24,"d":5.6},{"t":24.6,"d":5.15},{"t":25.2,"d":6.4},{"t":25.8,"d":5.2},{"t":26.3,"d":6.0},{"t":26.9,"d":5.5},{"t":27.3,"d":6.7},{"t":28.3,"d":6.4},{"t":28.5,"d":5.4},{"t":28.8,"d":7.5},{"t":29.5,"d":5.4},{"t":30.3,"d":6.4},{"t":30.8,"d":6.6},{"t":31.3,"d":7.4},{"t":32,"d":6.8},{"t":32.8,"d":6.9},{"t":33,"d":5.3},{"t":33.7,"d":7.3},{"t":34.3,"d":5.6},{"t":35.2,"d":5.5},{"t":35.5,"d":6.5},{"t":35.9,"d":5.0},{"t":36.3,"d":4.55},{"t":36.7,"d":4.8},{"t":37.4,"d":5.0},{"t":38,"d":4.7},{"t":38.8,"d":4.4},{"t":39.4,"d":3.95},{"t":40,"d":4.4},{"t":40.3,"d":5.1},{"t":40.9,"d":4.35},{"t":41.4,"d":5.1},{"t":42,"d":4.8},{"t":42.6,"d":4.25},{"t":43,"d":5.1},{"t":43.6,"d":5.1},{"t":44,"d":4.4},{"t":44.7,"d":4.15},{"t":45.1,"d":4.75},{"t":46.2,"d":4.7},{"t":46.9,"d":3.85},{"t":47.5,"d":4.6},{"t":47.8,"d":4.05},{"t":48.5,"d":4.3},{"t":49,"d":4.6},{"t":49.8,"d":4.9},{"t":50.8,"d":3.6},{"t":51.5,"d":4.4},{"t":52,"d":4.95},{"t":52.7,"d":5.05},{"t":53,"d":4.4},{"t":53.8,"d":4.4},{"t":54,"d":5.05},{"t":54.8,"d":4.35},{"t":55.5,"d":5.9},{"t":56.2,"d":6.05},{"t":56.8,"d":4.9},{"t":57.4,"d":4.5},{"t":57.8,"d":5.8},{"t":58.7,"d":3.65},{"t":59.4,"d":4.4},{"t":59.8,"d":5.0},{"t":60.6,"d":4.1},{"t":61.2,"d":4.9},{"t":61.8,"d":5.9},{"t":62.4,"d":4.55},{"t":63,"d":5.2},{"t":63.6,"d":4.5},{"t":64.6,"d":5.45},{"t":64.9,"d":4.0},{"t":65.5,"d":2.9},{"t":66.3,"d":4.1},{"t":67,"d":4.3},{"t":67.3,"d":3.8},{"t":67.8,"d":4.8},{"t":68.2,"d":4.1},{"t":68.8,"d":4.8},{"t":69.5,"d":5.2},{"t":70,"d":4.4},{"t":71,"d":4.7},{"t":71.8,"d":4.9},{"t":72.6,"d":4.0},{"t":73.6,"d":5.05},{"t":74.2,"d":4.8},{"t":74.8,"d":4.05},{"t":75.6,"d":5.0},{"t":76.4,"d":4.7},{"t":77.4,"d":3.5},{"t":77.8,"d":4.6},{"t":78.2,"d":4.8},{"t":78.9,"d":4.4},{"t":79.6,"d":3.4},{"t":80.1,"d":4.3},{"t":80.9,"d":4.35},{"t":81.4,"d":1.8},{"t":82.2,"d":1.6},{"t":82.5,"d":2.05},{"t":83,"d":1.95},{"t":83.5,"d":1.3},{"t":84,"d":2.3},{"t":84.5,"d":1.55},{"t":84.9,"d":2.4},{"t":85.5,"d":1.9},{"t":86.2,"d":1.7},{"t":86.6,"d":2.3},{"t":87.3,"d":1.85},{"t":88.5,"d":1.65},{"t":89.4,"d":2.05},{"t":89.8,"d":3.05},{"t":90.5,"d":2.6},{"t":90.9,"d":3.35},{"t":91.4,"d":2.55},{"t":92.6,"d":3.95},{"t":93,"d":2.85},{"t":94,"d":3.65},{"t":94.4,"d":2.6},{"t":95,"d":3.3},{"t":95.9,"d":2.05},{"t":96.4,"d":3.75},{"t":96.9,"d":3.6},{"t":97.4,"d":2.95},{"t":98,"d":4.65},{"t":98.5,"d":2.75},{"t":99,"d":3.45},{"t":99.7,"d":3.25},{"t":100.1,"d":2.0},{"t":100.6,"d":1.55},{"t":101.4,"d":1.3},{"t":101.9,"d":1.65},{"t":102.5,"d":1.35},{"t":103,"d":1.95},{"t":103.6,"d":1.85},{"t":104.1,"d":1.35},{"t":104.4,"d":2.05},{"t":105,"d":1.6},{"t":105.6,"d":1.9},{"t":106.5,"d":1.75},{"t":107,"d":1.15},{"t":108,"d":2.0},{"t":108.9,"d":1.6},{"t":109.5,"d":1.9},{"t":111,"d":1.6},{"t":111.7,"d":1.55},{"t":112.1,"d":0.9},{"t":112.5,"d":1.4},{"t":113.2,"d":1.55},{"t":113.8,"d":1.4},{"t":114.4,"d":1.85},{"t":115,"d":1.45},{"t":115.9,"d":1.8},{"t":116.6,"d":1.5},{"t":117.1,"d":1.9},{"t":118,"d":1.25},{"t":118.6,"d":1.65},{"t":119.1,"d":1.4},{"t":119.6,"d":1.9},{"t":120.1,"d":0.9},{"t":120.6,"d":1.65},{"t":121.2,"d":0.9},{"t":121.8,"d":0.75},{"t":122.4,"d":1.9},{"t":123.1,"d":1.2},{"t":123.6,"d":1.85},{"t":124.5,"d":1.4},{"t":125.6,"d":1.4},{"t":126,"d":1.7},{"t":126.8,"d":1.75},{"t":127,"d":0.95},{"t":127.5,"d":2.1},{"t":128.1,"d":1.5},{"t":128.6,"d":1.1},{"t":129.1,"d":1.55},{"t":130,"d":1.55},{"t":131.3,"d":1.25},{"t":132.2,"d":1.85},{"t":133.2,"d":2.2},{"t":133.8,"d":1.4},{"t":134.8,"d":1.65},{"t":136.5,"d":1.4},{"t":138,"d":1.75},{"t":138.8,"d":1.35},{"t":140.7,"d":1.6},{"t":142,"d":1.95},{"t":143,"d":1.15},{"t":143.7,"d":2.2},{"t":144.1,"d":1.1},{"t":145,"d":1.65},{"t":146,"d":1.9},{"t":147,"d":1.5},{"t":147.4,"d":1.05},{"t":148.6,"d":0.95},{"t":149.5,"d":1.02},{"t":150.5,"d":0.93},{"t":151.5,"d":1.05},{"t":152.5,"d":1.0},{"t":153.5,"d":0.92},{"t":154.5,"d":1.0},{"t":156,"d":0.95},{"t":157,"d":1.03},{"t":158,"d":0.97},{"t":159,"d":1.02},{"t":160,"d":0.9},{"t":161,"d":1.03},{"t":162,"d":0.97},{"t":164,"d":1.03},{"t":165,"d":0.95},{"t":167,"d":1.0},{"t":170,"d":0.98},{"t":173,"d":1.0},{"t":176,"d":0.98},{"t":178,"d":1.02},{"t":180,"d":1.0},{"t":182,"d":0.96},{"t":184,"d":1.0},{"t":186,"d":1.03},{"t":188,"d":0.98},{"t":190,"d":1.05},{"t":191.5,"d":0.93},{"t":192.2,"d":1.12},{"t":192.8,"d":0.88},{"t":193.3,"d":1.1},{"t":194,"d":0.93},{"t":195,"d":1.0},{"t":197,"d":0.97},{"t":199,"d":1.03},{"t":201,"d":0.98},{"t":203,"d":1.0},{"t":205,"d":0.96},{"t":208,"d":1.0},{"t":211,"d":0.98},{"t":214,"d":1.0},{"t":217,"d":1.03},{"t":219,"d":0.97},{"t":220.5,"d":1.07},{"t":221.5,"d":0.97},{"t":223,"d":1.05},{"t":224,"d":0.93},{"t":225,"d":1.03},{"t":227,"d":0.99},{"t":229,"d":1.05},{"t":231,"d":1.0},{"t":233,"d":0.97},{"t":234.5,"d":1.05},{"t":235.5,"d":0.93},{"t":237,"d":1.05},{"t":238,"d":0.95},{"t":240,"d":1.05},{"t":241,"d":0.93},{"t":243,"d":1.02},{"t":245,"d":1.08},{"t":246,"d":0.93},{"t":248,"d":1.0},{"t":250,"d":1.05},{"t":251,"d":0.95},{"t":253,"d":1.1},{"t":254,"d":0.97},{"t":256,"d":1.02},{"t":258,"d":0.98},{"t":259,"d":1.12},{"t":260,"d":0.95},{"t":261,"d":1.05},{"t":262,"d":0.9},{"t":263,"d":1.12},{"t":263.7,"d":0.88},{"t":265,"d":1.03},{"t":267,"d":0.98},{"t":269,"d":1.03},{"t":271,"d":0.97},{"t":273,"d":1.05},{"t":275,"d":0.98},{"t":277,"d":1.03},{"t":279,"d":1.12},{"t":281,"d":1.02},{"t":283,"d":1.0},{"t":285,"d":0.98},{"t":288,"d":1.0},{"t":290,"d":0.98},{"t":292,"d":1.02},{"t":294,"d":0.99},{"t":296,"d":1.0},{"t":298,"d":0.97},{"t":299,"d":1.0},{"t":300,"d":1.03}],
"bonds":[
{"x":230,"y":2240,"x2":120,"y2":2265,"el":"H","depth":"front"},
{"x":230,"y":2240,"x2":200,"y2":2246,"el":"C","depth":"front"},
{"x":230,"y":2240,"x2":246,"y2":2112,"el":"H","depth":"front"},
{"x":230,"y":2240,"x2":239,"y2":2172,"el":"C","depth":"front"},
{"x":230,"y":2240,"x2":367,"y2":2309,"el":"C","depth":"front"},
{"x":367,"y":2309,"x2":448,"y2":2226,"el":"O","depth":"front"},
{"x":367,"y":2309,"x2":395,"y2":2460,"el":"O","depth":"front"},
{"x":367,"y":2309,"x2":381,"y2":2385,"el":"C","depth":"front"},
{"x":395,"y":2460,"x2":496,"y2":2492,"el":"H","depth":"front"},
{"x":395,"y":2460,"x2":430,"y2":2471,"el":"O","depth":"front"},
{"x":836,"y":2370,"x2":792,"y2":2437,"el":"H","depth":"front"},
{"x":836,"y":2370,"x2":982,"y2":2423,"el":"C","depth":"front"},
{"x":836,"y":2370,"x2":905,"y2":2395,"el":"O","depth":"front"},
{"x":982,"y":2423,"x2":1074,"y2":2382,"el":"C","depth":"front"},
{"x":982,"y":2423,"x2":1036,"y2":2487,"el":"O","depth":"front"},
{"x":1074,"y":2382,"x2":1072,"y2":2252,"el":"H","depth":"front"},
{"x":1074,"y":2382,"x2":1073,"y2":2320,"el":"C","depth":"front"},
{"x":1074,"y":2382,"x2":1194,"y2":2432,"el":"H","depth":"front"},
{"x":1074,"y":2382,"x2":1125,"y2":2403,"el":"C","depth":"front"},
{"x":1806,"y":2245,"x2":1867,"y2":2223,"el":"H","depth":"front"},
{"x":1806,"y":2245,"x2":1814,"y2":2393,"el":"C","depth":"front"},
{"x":1806,"y":2245,"x2":1810,"y2":2319,"el":"O","depth":"front"},
{"x":1814,"y":2393,"x2":1752,"y2":2462,"el":"O","depth":"front"},
{"x":1814,"y":2393,"x2":1922,"y2":2448,"el":"C","depth":"front"},
{"x":1922,"y":2448,"x2":2031,"y2":2415,"el":"H","depth":"front"},
{"x":1922,"y":2448,"x2":1918,"y2":2574,"el":"H","depth":"front"},
{"x":1922,"y":2448,"x2":1920,"y2":2520,"el":"C","depth":"front"},
{"x":1922,"y":2448,"x2":2059,"y2":2496,"el":"H","depth":"back"},
{"x":2245,"y":2254,"x2":2120,"y2":2222,"el":"O","depth":"front"},
{"x":2245,"y":2254,"x2":2347,"y2":2146,"el":"C","depth":"front"},
{"x":2347,"y":2146,"x2":2302,"y2":2085,"el":"H","depth":"front"},
{"x":2347,"y":2146,"x2":2325,"y2":2115,"el":"C","depth":"front"},
{"x":2347,"y":2146,"x2":2356,"y2":2060,"el":"H","depth":"front"},
{"x":2347,"y":2146,"x2":2460,"y2":2183,"el":"H","depth":"front"},
{"x":2347,"y":2146,"x2":2400,"y2":2163,"el":"C","depth":"front"},
{"x":2245,"y":2254,"x2":2277,"y2":2398,"el":"O","depth":"front"},
{"x":2245,"y":2254,"x2":2260,"y2":2330,"el":"C","depth":"front"},
{"x":2277,"y":2398,"x2":2168,"y2":2464,"el":"H","depth":"front"},
{"x":2277,"y":2398,"x2":2228,"y2":2428,"el":"O","depth":"front"},
{"x":155,"y":2103,"x2":155,"y2":2036,"el":"C","depth":"back"},
{"x":155,"y":2103,"x2":48,"y2":2135,"el":"C","depth":"back"},
{"x":155,"y":2103,"x2":182,"y2":2206,"el":"H","depth":"back"},
{"x":155,"y":2103,"x2":168,"y2":2155,"el":"C","depth":"back"},
{"x":155,"y":2103,"x2":246,"y2":2094,"el":"H","depth":"back"},
{"x":332,"y":2055,"x2":240,"y2":2085,"el":"H","depth":"back"},
{"x":332,"y":2055,"x2":392,"y2":2036,"el":"C","depth":"back"},
{"x":332,"y":2055,"x2":356,"y2":2162,"el":"H","depth":"back"},
{"x":95,"y":2370,"x2":199,"y2":2420,"el":"H","depth":"back"},
{"x":95,"y":2370,"x2":48,"y2":2410,"el":"O","depth":"back"},
{"x":606,"y":2528,"x2":606,"y2":2626,"el":"O","depth":"back"},
{"x":606,"y":2600,"x2":606,"y2":2626,"el":"C","depth":"back"},
{"x":48,"y":2622,"x2":134,"y2":2626,"el":"C","depth":"back"},
{"x":2059,"y":2496,"x2":2051,"y2":2583,"el":"O","depth":"back"},
{"x":2051,"y":2583,"x2":1946,"y2":2571,"el":"O","depth":"back"},
{"x":2051,"y":2583,"x2":2096,"y2":2626,"el":"C","depth":"back"}
],
"dashes":[
{"x":493,"y":2254,"x2":758,"y2":2418},
{"x":524,"y":2491,"x2":982,"y2":2488}
],
"atoms":[
{"x":120,"y":2265,"el":"H","depth":"front"},
{"x":216,"y":2286,"el":"H","depth":"front"},
{"x":182,"y":2206,"el":"H","depth":"back"},
{"x":496,"y":2492,"el":"H","depth":"front"},
{"x":792,"y":2437,"el":"H","depth":"front"},
{"x":1072,"y":2252,"el":"H","depth":"front"},
{"x":1194,"y":2432,"el":"H","depth":"front"},
{"x":1867,"y":2223,"el":"H","depth":"front"},
{"x":1905,"y":2393,"el":"H","depth":"front"},
{"x":2031,"y":2415,"el":"H","depth":"front"},
{"x":2302,"y":2085,"el":"H","depth":"front"},
{"x":2356,"y":2060,"el":"H","depth":"front"},
{"x":2460,"y":2183,"el":"H","depth":"front"},
{"x":2168,"y":2464,"el":"H","depth":"front"},
{"x":1918,"y":2574,"el":"H","depth":"back"},
{"x":240,"y":2070,"el":"H","depth":"back"},
{"x":246,"y":2112,"el":"H","depth":"back"},
{"x":257,"y":2094,"el":"H","depth":"back"},
{"x":356,"y":2162,"el":"H","depth":"back"},
{"x":793,"y":2047,"el":"H","depth":"back"},
{"x":1030,"y":2078,"el":"H","depth":"back"},
{"x":199,"y":2420,"el":"H","depth":"back"},
{"x":1685,"y":1996,"el":"H","depth":"faint"},
{"x":1935,"y":1996,"el":"H","depth":"faint"},
{"x":2069,"y":2005,"el":"H","depth":"faint"},
{"x":155,"y":2103,"el":"C","depth":"back"},
{"x":332,"y":2055,"el":"C","depth":"back"},
{"x":2051,"y":2583,"el":"C","depth":"back"},
{"x":95,"y":2370,"el":"O","depth":"back"},
{"x":606,"y":2528,"el":"O","depth":"back"},
{"x":2059,"y":2496,"el":"O","depth":"back"},
{"x":1946,"y":2571,"el":"O","depth":"back"},
{"x":1654,"y":2009,"el":"O","depth":"faint"},
{"x":230,"y":2240,"el":"C","depth":"front"},
{"x":367,"y":2309,"el":"C","depth":"front"},
{"x":982,"y":2423,"el":"C","depth":"front"},
{"x":1074,"y":2382,"el":"C","depth":"front"},
{"x":1814,"y":2393,"el":"C","depth":"front"},
{"x":1922,"y":2448,"el":"C","depth":"front"},
{"x":2245,"y":2254,"el":"C","depth":"front"},
{"x":2347,"y":2146,"el":"C","depth":"front"},
{"x":448,"y":2226,"el":"O","depth":"front"},
{"x":395,"y":2460,"el":"O","depth":"front"},
{"x":836,"y":2370,"el":"O","depth":"front"},
{"x":1036,"y":2487,"el":"O","depth":"front"},
{"x":1806,"y":2245,"el":"O","depth":"front"},
{"x":1752,"y":2462,"el":"O","depth":"front"},
{"x":2120,"y":2222,"el":"O","depth":"front"},
{"x":2277,"y":2398,"el":"O","depth":"front"}
],
"labels":[
{"x":620,"y":2416,"text":"3 . 52","group":"big"},
{"x":767,"y":2574,"text":"4 . 78","group":"big"},
{"x":1836,"y":2311,"text":"96","group":"small"},
{"x":2220,"y":2494,"text":"1 . 27","group":"small"}
]
},
"vconcat":[
{"width":2322.5,"height":772,
"resolve":{"axis":{"x":"independent","y":"independent"}},
"encoding":{"x":{"field":"t","type":"quantitative","scale":{"domain":[0,300],"nice":false}},"y":{"field":"d","type":"quantitative","scale":{"domain":[0,10],"nice":false}}},
"layer":[
{"data":{"name":"black1"},"mark":"line","encoding":{"color":{"value":"#000000"},
"x":{"field":"t","type":"quantitative","axis":{"orient":"bottom","title":"Time / ps","values":[0,50,100,150,200,250,300],"tickSize":-43,"labelPadding":58,"titlePadding":6}},
"y":{"field":"d","type":"quantitative","axis":{"orient":"left","title":"Distance / Å","values":[0,2,4,6,8,10],"tickSize":-43,"labelPadding":62,"titlePadding":13}}}},
{"data":{"name":"red1"},"mark":"line","encoding":{"color":{"value":"#ff0000"},
"x":{"field":"t","type":"quantitative","axis":{"orient":"top","title":null,"values":[0,50,100,150,200,250,300],"tickSize":-43,"labels":false}},
"y":{"field":"d","type":"quantitative","axis":{"orient":"right","title":null,"values":[0,2,4,6,8,10],"tickSize":-43,"labels":false}}}},
{"data":{"name":"black1"},"mark":{"type":"line","opacity":0},"encoding":{
"x":{"field":"t","type":"quantitative","axis":{"orient":"bottom","title":null,"values":[25,75,125,175,225,275],"tickSize":-21.5,"labels":false}},
"y":{"field":"d","type":"quantitative","axis":{"orient":"left","title":null,"values":[1,3,5,7,9],"tickSize":-21.5,"labels":false}}}},
{"data":{"name":"black1"},"mark":{"type":"line","opacity":0},"encoding":{
"x":{"field":"t","type":"quantitative","axis":{"orient":"top","title":null,"values":[25,75,125,175,225,275],"tickSize":-21.5,"labels":false}},
"y":{"field":"d","type":"quantitative","axis":{"orient":"right","title":null,"values":[1,3,5,7,9],"tickSize":-21.5,"labels":false}}}}
]},
{"width":2322.5,"height":772,
"resolve":{"axis":{"x":"independent","y":"independent"}},
"encoding":{"x":{"field":"t","type":"quantitative","scale":{"domain":[0,300],"nice":false}},"y":{"field":"d","type":"quantitative","scale":{"domain":[0,10],"nice":false}}},
"layer":[
{"data":{"name":"black2"},"mark":"line","encoding":{"color":{"value":"#000000"},
"x":{"field":"t","type":"quantitative","axis":{"orient":"bottom","title":"Time / ps","values":[0,50,100,150,200,250,300],"tickSize":-43,"labelPadding":58,"titlePadding":6}},
"y":{"field":"d","type":"quantitative","axis":{"orient":"left","title":"Distance / Å","values":[0,2,4,6,8,10],"tickSize":-43,"labelPadding":62,"titlePadding":13}}}},
{"data":{"name":"red2"},"mark":"line","encoding":{"color":{"value":"#ff0000"},
"x":{"field":"t","type":"quantitative","axis":{"orient":"top","title":null,"values":[0,50,100,150,200,250,300],"tickSize":-43,"labels":false}},
"y":{"field":"d","type":"quantitative","axis":{"orient":"right","title":null,"values":[0,2,4,6,8,10],"tickSize":-43,"labels":false}}}},
{"data":{"name":"black2"},"mark":{"type":"line","opacity":0},"encoding":{
"x":{"field":"t","type":"quantitative","axis":{"orient":"bottom","title":null,"values":[25,75,125,175,225,275],"tickSize":-21.5,"labels":false}},
"y":{"field":"d","type":"quantitative","axis":{"orient":"left","title":null,"values":[1,3,5,7,9],"tickSize":-21.5,"labels":false}}}},
{"data":{"name":"black2"},"mark":{"type":"line","opacity":0},"encoding":{
"x":{"field":"t","type":"quantitative","axis":{"orient":"top","title":null,"values":[25,75,125,175,225,275],"tickSize":-21.5,"labels":false}},
"y":{"field":"d","type":"quantitative","axis":{"orient":"right","title":null,"values":[1,3,5,7,9],"tickSize":-21.5,"labels":false}}}}
]},
{"width":2322.5,"height":726.5,"view":{"stroke":null},
"encoding":{
"x":{"field":"x","type":"quantitative","axis":null,"scale":{"domain":[177.5,2500],"nice":false,"zero":false}},
"y":{"field":"y","type":"quantitative","axis":null,"scale":{"domain":[2620,1893.5],"nice":false,"zero":false}},
"opacity":{"field":"depth","type":"nominal","legend":null,"scale":{"type":"ordinal","domain":["front","back","faint"],"range":[1,0.5,0.12]}}
},
"layer":[
{"data":{"name":"bonds"},"transform":[{"filter":"datum.depth=='back'"}],"mark":{"type":"rule","strokeWidth":10},
"encoding":{"x2":{"field":"x2"},"y2":{"field":"y2"},"color":{"field":"el","type":"nominal","legend":null,"scale":{"domain":["C","O","H"],"range":["#58aab2","#d8282a","#d4d4d4"]}}}},
{"data":{"name":"atoms"},"transform":[{"filter":"datum.depth!='front'&&datum.el=='C'"}],"mark":{"type":"circle","size":2900,"fill":{"gradient":"radial","x1":0.45,"y1":0.4,"r1":0,"x2":0.5,"y2":0.5,"r2":0.55,"stops":[{"offset":0,"color":"#8fd4da"},{"offset":0.5,"color":"#4fa0a8"},{"offset":1,"color":"#2f7880"}]}}},
{"data":{"name":"atoms"},"transform":[{"filter":"datum.depth!='front'&&datum.el=='O'"}],"mark":{"type":"circle","size":2000,"fill":{"gradient":"radial","x1":0.45,"y1":0.4,"r1":0,"x2":0.5,"y2":0.5,"r2":0.55,"stops":[{"offset":0,"color":"#ff7070"},{"offset":0.5,"color":"#e02020"},{"offset":1,"color":"#a01c1c"}]}}},
{"data":{"name":"atoms"},"transform":[{"filter":"datum.depth!='front'&&datum.el=='H'"}],"mark":{"type":"circle","size":950,"fill":{"gradient":"radial","x1":0.45,"y1":0.4,"r1":0,"x2":0.5,"y2":0.5,"r2":0.55,"stops":[{"offset":0,"color":"#ffffff"},{"offset":0.5,"color":"#e8e8e8"},{"offset":1,"color":"#a0a0a0"}]}}},
{"data":{"name":"dashes"},"mark":{"type":"rule","strokeWidth":9,"strokeDash":[13,11],"color":"#c040d0"},"encoding":{"x2":{"field":"x2"},"y2":{"field":"y2"},"opacity":{"value":1}}},
{"data":{"name":"bonds"},"transform":[{"filter":"datum.depth=='front'"}],"mark":{"type":"rule","strokeWidth":25},
"encoding":{"x2":{"field":"x2"},"y2":{"field":"y2"},"color":{"field":"el","type":"nominal","legend":null,"scale":{"domain":["C","O","H"],"range":["#58aab2","#d8282a","#d4d4d4"]}}}},
{"data":{"name":"atoms"},"transform":[{"filter":"datum.depth=='front'&&datum.el=='H'"}],"mark":{"type":"circle","size":2640,"fill":{"gradient":"radial","x1":0.45,"y1":0.4,"r1":0,"x2":0.5,"y2":0.5,"r2":0.55,"stops":[{"offset":0,"color":"#ffffff"},{"offset":0.5,"color":"#f0f0f0"},{"offset":1,"color":"#a8a8a8"}]}}},
{"data":{"name":"atoms"},"transform":[{"filter":"datum.depth=='front'&&datum.el=='C'"}],"mark":{"type":"circle","size":7600,"fill":{"gradient":"radial","x1":0.45,"y1":0.4,"r1":0,"x2":0.5,"y2":0.5,"r2":0.55,"stops":[{"offset":0,"color":"#a8e8ee"},{"offset":0.5,"color":"#5cb3bb"},{"offset":1,"color":"#3a8890"}]}}},
{"data":{"name":"atoms"},"transform":[{"filter":"datum.depth=='front'&&datum.el=='O'"}],"mark":{"type":"circle","size":6000,"fill":{"gradient":"radial","x1":0.45,"y1":0.4,"r1":0,"x2":0.5,"y2":0.5,"r2":0.55,"stops":[{"offset":0,"color":"#ff7070"},{"offset":0.4,"color":"#ec1c1c"},{"offset":1,"color":"#a81e1e"}]}}},
{"data":{"name":"labels"},"transform":[{"filter":"datum.group=='big'"}],"mark":{"type":"text","font":"DejaVu Sans","fontSize":38,"angle":90,"color":"#d070e0"},"encoding":{"text":{"field":"text"},"opacity":{"value":1}}},
{"data":{"name":"labels"},"transform":[{"filter":"datum.group=='small'"}],"mark":{"type":"text","font":"DejaVu Sans","fontSize":23,"angle":90,"color":"#e4b8f0"},"encoding":{"text":{"field":"text"},"opacity":{"value":1}}}
]}
]
}
